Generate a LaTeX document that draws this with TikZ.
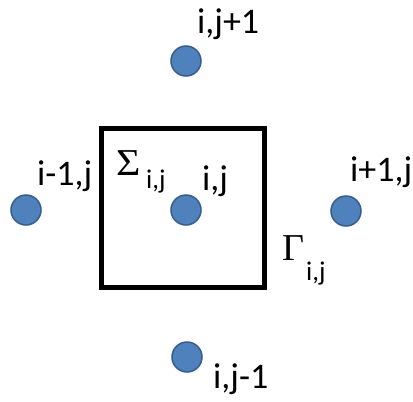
\documentclass[tikz,border=0pt]{standalone}
\usepackage{fontspec}
\setmainfont{Carlito}
\newfontfamily\gkfont{Liberation Serif}
\definecolor{dotfill}{HTML}{4F81BD}
\definecolor{dotedge}{HTML}{385D8A}
\begin{document}
\begin{tikzpicture}[x=1pt,y=-1pt,
  pt/.style={circle,fill=dotfill,draw=dotedge,line width=1.5pt,minimum size=30pt,inner sep=0},
  lbl/.style={anchor=base west,inner sep=0,font=\fontsize{36}{38}\selectfont},
  cell/.style={draw=black,line width=5pt,inner sep=0,minimum width=163pt,minimum height=159pt},
  gk/.style={anchor=base west,inner sep=0,font=\gkfont\fontsize{38}{40}\selectfont},
  sub/.style={anchor=base west,inner sep=0,font=\fontsize{27}{29}\selectfont}]
\useasboundingbox (0,0) rectangle (413,402);
\fill[white] (0,0) rectangle (413,402);
\node[cell] (box) at (183,208) {};
\node[pt] (c) at (186,210) {};
\node[pt] (n) at (186,61) {};
\node[pt] (w) at (26,210) {};
\node[pt] (e) at (346,211) {};
\node[pt] (s) at (187,357) {};
\node[lbl] (ln) at (197,33) {i,j+1};
\node[lbl] (lc) at (202,190) {i,j};
\node[lbl] (lw) at (37,185) {i-1,j};
\node[lbl] (le) at (350,181) {i+1,j};
\node[lbl] (ls) at (213,388) {i,j-1};
\node[gk,xscale=1.1] (sig) at (116,175) {Σ};
\node[sub] (sigsub) at (146,188) {i,j};
\node[gk] (gam) at (282,260) {Γ};
\node[sub] (gamsub) at (306,280) {i,j};
\end{tikzpicture}
\end{document}
